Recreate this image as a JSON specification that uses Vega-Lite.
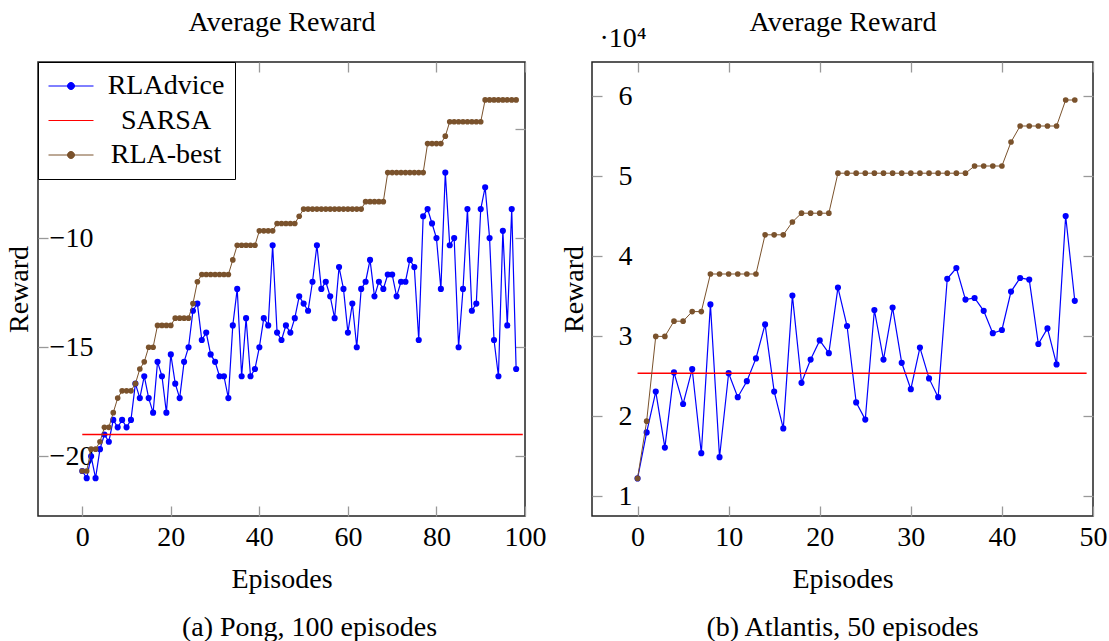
{
"$schema": "https://vega.github.io/schema/vega-lite/v6.json",
"background": "white",
"padding": {"left": 4, "top": 7, "right": 0, "bottom": 0},
"config": {
  "font": "Liberation Serif",
  "view": {"stroke": "#222222", "strokeWidth": 1.5},
  "axis": {"labelFont": "Liberation Serif", "titleFont": "Liberation Serif", "labelFontSize": 28, "titleFontSize": 28, "labelColor": "black", "titleColor": "black", "titleFontWeight": "normal", "domain": false, "grid": false, "tickColor": "#999999", "tickSize": -10, "tickWidth": 1.3, "labelFlush": false, "labelOverlap": false, "labelBound": false},
  "legend": {"labelFont": "Liberation Serif"},
  "title": {"font": "Liberation Serif", "fontSize": 28, "fontWeight": "normal", "color": "black"}
},
"datasets": {
  "pongAdvice": [{"ep":0,"reward":-20.67},{"ep":1,"reward":-21},{"ep":2,"reward":-20},{"ep":3,"reward":-21},{"ep":4,"reward":-19.67},{"ep":5,"reward":-19},{"ep":6,"reward":-19.33},{"ep":7,"reward":-18.33},{"ep":8,"reward":-18.67},{"ep":9,"reward":-18.33},{"ep":10,"reward":-18.67},{"ep":11,"reward":-18.33},{"ep":12,"reward":-16.67},{"ep":13,"reward":-17.33},{"ep":14,"reward":-16.33},{"ep":15,"reward":-17.33},{"ep":16,"reward":-18},{"ep":17,"reward":-15.67},{"ep":18,"reward":-16.33},{"ep":19,"reward":-18},{"ep":20,"reward":-15.33},{"ep":21,"reward":-16.67},{"ep":22,"reward":-17.33},{"ep":23,"reward":-15.67},{"ep":24,"reward":-15},{"ep":25,"reward":-13.33},{"ep":26,"reward":-13},{"ep":27,"reward":-14.67},{"ep":28,"reward":-14.33},{"ep":29,"reward":-15.33},{"ep":30,"reward":-15.67},{"ep":31,"reward":-16.33},{"ep":32,"reward":-16.33},{"ep":33,"reward":-17.33},{"ep":34,"reward":-14},{"ep":35,"reward":-12.33},{"ep":36,"reward":-16.33},{"ep":37,"reward":-13.67},{"ep":38,"reward":-16.33},{"ep":39,"reward":-16},{"ep":40,"reward":-15},{"ep":41,"reward":-13.67},{"ep":42,"reward":-14},{"ep":43,"reward":-10.33},{"ep":44,"reward":-14.33},{"ep":45,"reward":-14.67},{"ep":46,"reward":-14},{"ep":47,"reward":-14.33},{"ep":48,"reward":-13.67},{"ep":49,"reward":-12.67},{"ep":50,"reward":-13},{"ep":51,"reward":-13.33},{"ep":52,"reward":-12},{"ep":53,"reward":-10.33},{"ep":54,"reward":-12.33},{"ep":55,"reward":-12},{"ep":56,"reward":-12.67},{"ep":57,"reward":-13.67},{"ep":58,"reward":-11.33},{"ep":59,"reward":-12.33},{"ep":60,"reward":-14.33},{"ep":61,"reward":-13},{"ep":62,"reward":-15},{"ep":63,"reward":-12.33},{"ep":64,"reward":-12},{"ep":65,"reward":-11},{"ep":66,"reward":-12.67},{"ep":67,"reward":-12},{"ep":68,"reward":-12.33},{"ep":69,"reward":-11.67},{"ep":70,"reward":-11.67},{"ep":71,"reward":-12.67},{"ep":72,"reward":-12},{"ep":73,"reward":-12},{"ep":74,"reward":-11},{"ep":75,"reward":-11.33},{"ep":76,"reward":-14.67},{"ep":77,"reward":-9},{"ep":78,"reward":-8.67},{"ep":79,"reward":-9.33},{"ep":80,"reward":-10},{"ep":81,"reward":-12.33},{"ep":82,"reward":-7},{"ep":83,"reward":-10.33},{"ep":84,"reward":-10},{"ep":85,"reward":-15},{"ep":86,"reward":-12.33},{"ep":87,"reward":-8.67},{"ep":88,"reward":-13.33},{"ep":89,"reward":-13},{"ep":90,"reward":-8.67},{"ep":91,"reward":-7.67},{"ep":92,"reward":-10},{"ep":93,"reward":-14.67},{"ep":94,"reward":-16.33},{"ep":95,"reward":-9.67},{"ep":96,"reward":-14},{"ep":97,"reward":-8.67},{"ep":98,"reward":-16}],
  "pongBest": [{"ep":0,"reward":-20.67},{"ep":1,"reward":-20.67},{"ep":2,"reward":-19.67},{"ep":3,"reward":-19.67},{"ep":4,"reward":-19.33},{"ep":5,"reward":-18.67},{"ep":6,"reward":-18.67},{"ep":7,"reward":-18},{"ep":8,"reward":-17.33},{"ep":9,"reward":-17},{"ep":10,"reward":-17},{"ep":11,"reward":-17},{"ep":12,"reward":-16.67},{"ep":13,"reward":-16},{"ep":14,"reward":-15.67},{"ep":15,"reward":-15},{"ep":16,"reward":-15},{"ep":17,"reward":-14},{"ep":18,"reward":-14},{"ep":19,"reward":-14},{"ep":20,"reward":-14},{"ep":21,"reward":-13.67},{"ep":22,"reward":-13.67},{"ep":23,"reward":-13.67},{"ep":24,"reward":-13.67},{"ep":25,"reward":-13},{"ep":26,"reward":-12},{"ep":27,"reward":-11.67},{"ep":28,"reward":-11.67},{"ep":29,"reward":-11.67},{"ep":30,"reward":-11.67},{"ep":31,"reward":-11.67},{"ep":32,"reward":-11.67},{"ep":33,"reward":-11.67},{"ep":34,"reward":-11},{"ep":35,"reward":-10.33},{"ep":36,"reward":-10.33},{"ep":37,"reward":-10.33},{"ep":38,"reward":-10.33},{"ep":39,"reward":-10.33},{"ep":40,"reward":-9.67},{"ep":41,"reward":-9.67},{"ep":42,"reward":-9.67},{"ep":43,"reward":-9.67},{"ep":44,"reward":-9.33},{"ep":45,"reward":-9.33},{"ep":46,"reward":-9.33},{"ep":47,"reward":-9.33},{"ep":48,"reward":-9.33},{"ep":49,"reward":-9},{"ep":50,"reward":-8.67},{"ep":51,"reward":-8.67},{"ep":52,"reward":-8.67},{"ep":53,"reward":-8.67},{"ep":54,"reward":-8.67},{"ep":55,"reward":-8.67},{"ep":56,"reward":-8.67},{"ep":57,"reward":-8.67},{"ep":58,"reward":-8.67},{"ep":59,"reward":-8.67},{"ep":60,"reward":-8.67},{"ep":61,"reward":-8.67},{"ep":62,"reward":-8.67},{"ep":63,"reward":-8.67},{"ep":64,"reward":-8.33},{"ep":65,"reward":-8.33},{"ep":66,"reward":-8.33},{"ep":67,"reward":-8.33},{"ep":68,"reward":-8.33},{"ep":69,"reward":-7},{"ep":70,"reward":-7},{"ep":71,"reward":-7},{"ep":72,"reward":-7},{"ep":73,"reward":-7},{"ep":74,"reward":-7},{"ep":75,"reward":-7},{"ep":76,"reward":-7},{"ep":77,"reward":-7},{"ep":78,"reward":-5.67},{"ep":79,"reward":-5.67},{"ep":80,"reward":-5.67},{"ep":81,"reward":-5.67},{"ep":82,"reward":-5.33},{"ep":83,"reward":-4.67},{"ep":84,"reward":-4.67},{"ep":85,"reward":-4.67},{"ep":86,"reward":-4.67},{"ep":87,"reward":-4.67},{"ep":88,"reward":-4.67},{"ep":89,"reward":-4.67},{"ep":90,"reward":-4.67},{"ep":91,"reward":-3.67},{"ep":92,"reward":-3.67},{"ep":93,"reward":-3.67},{"ep":94,"reward":-3.67},{"ep":95,"reward":-3.67},{"ep":96,"reward":-3.67},{"ep":97,"reward":-3.67},{"ep":98,"reward":-3.67}],
  "pongSarsa": [{"ep":0,"reward":-19},{"ep":99.5,"reward":-19}],
  "atlAdvice": [{"ep":0,"reward":12250},{"ep":1,"reward":18000},{"ep":2,"reward":23100},{"ep":3,"reward":16100},{"ep":4,"reward":25500},{"ep":5,"reward":21550},{"ep":6,"reward":25900},{"ep":7,"reward":15400},{"ep":8,"reward":34000},{"ep":9,"reward":14900},{"ep":10,"reward":25400},{"ep":11,"reward":22400},{"ep":12,"reward":24400},{"ep":13,"reward":27250},{"ep":14,"reward":31500},{"ep":15,"reward":23100},{"ep":16,"reward":18500},{"ep":17,"reward":35100},{"ep":18,"reward":24200},{"ep":19,"reward":27100},{"ep":20,"reward":29500},{"ep":21,"reward":27900},{"ep":22,"reward":36100},{"ep":23,"reward":31300},{"ep":24,"reward":21750},{"ep":25,"reward":19600},{"ep":26,"reward":33300},{"ep":27,"reward":27100},{"ep":28,"reward":33600},{"ep":29,"reward":26700},{"ep":30,"reward":23400},{"ep":31,"reward":28600},{"ep":32,"reward":24750},{"ep":33,"reward":22400},{"ep":34,"reward":37200},{"ep":35,"reward":38550},{"ep":36,"reward":34600},{"ep":37,"reward":34800},{"ep":38,"reward":33200},{"ep":39,"reward":30400},{"ep":40,"reward":30800},{"ep":41,"reward":35600},{"ep":42,"reward":37300},{"ep":43,"reward":37100},{"ep":44,"reward":29050},{"ep":45,"reward":31000},{"ep":46,"reward":26500},{"ep":47,"reward":45050},{"ep":48,"reward":34450}],
  "atlBest": [{"ep":0,"reward":12250},{"ep":1,"reward":19400},{"ep":2,"reward":30000},{"ep":3,"reward":30000},{"ep":4,"reward":31900},{"ep":5,"reward":31900},{"ep":6,"reward":33100},{"ep":7,"reward":33100},{"ep":8,"reward":37800},{"ep":9,"reward":37800},{"ep":10,"reward":37800},{"ep":11,"reward":37800},{"ep":12,"reward":37800},{"ep":13,"reward":37800},{"ep":14,"reward":42700},{"ep":15,"reward":42700},{"ep":16,"reward":42700},{"ep":17,"reward":44300},{"ep":18,"reward":45400},{"ep":19,"reward":45400},{"ep":20,"reward":45400},{"ep":21,"reward":45400},{"ep":22,"reward":50400},{"ep":23,"reward":50400},{"ep":24,"reward":50400},{"ep":25,"reward":50400},{"ep":26,"reward":50400},{"ep":27,"reward":50400},{"ep":28,"reward":50400},{"ep":29,"reward":50400},{"ep":30,"reward":50400},{"ep":31,"reward":50400},{"ep":32,"reward":50400},{"ep":33,"reward":50400},{"ep":34,"reward":50400},{"ep":35,"reward":50400},{"ep":36,"reward":50400},{"ep":37,"reward":51300},{"ep":38,"reward":51300},{"ep":39,"reward":51300},{"ep":40,"reward":51300},{"ep":41,"reward":54300},{"ep":42,"reward":56300},{"ep":43,"reward":56300},{"ep":44,"reward":56300},{"ep":45,"reward":56300},{"ep":46,"reward":56300},{"ep":47,"reward":59550},{"ep":48,"reward":59550}],
  "atlSarsa": [{"ep":0,"reward":25400},{"ep":49.3,"reward":25400}]
},
"spacing": 67,
"bounds": "flush",
"hconcat": [
 {
  "width": 487, "height": 454,
  "title": {"text": "(a) Pong, 100 episodes", "orient": "bottom", "anchor": "middle", "frame": "group", "dx": 28, "offset": 21},
  "resolve": {"axis": {"x": "independent", "y": "independent"}},
  "layer": [
   {"data": {"name": "pongAdvice"}, "mark": {"type": "line", "strokeWidth": 1.2},
    "encoding": {
     "x": {"field": "ep", "type": "quantitative", "scale": {"domain": [-10, 100], "nice": false, "zero": false},
           "axis": {"orient": "bottom", "values": [0, 20, 40, 60, 80, 100], "title": "Episodes", "titleX": 243.5, "titleY": 71, "titleAlign": "center", "titleBaseline": "alphabetic", "labelBaseline": "alphabetic", "labelPadding": 39}},
     "y": {"field": "reward", "type": "quantitative", "scale": {"domain": [-22.733, -1.933], "nice": false, "zero": false},
           "axis": {"orient": "left", "values": [-20, -15, -10, -5], "title": "Reward", "titleX": -19, "titleY": 227, "titleAngle": 270, "titleAlign": "center", "titleBaseline": "middle", "labelAlign": "center", "labelBaseline": "middle", "labelPadding": -23}},
     "color": {"datum": "RLAdvice", "scale": {"domain": ["RLAdvice", "SARSA", "RLA-best"], "range": ["#0000ff", "#ff0000", "#7a522c"]},
       "legend": {"title": null, "orient": "top-left", "offset": 0, "fillColor": "white", "strokeColor": "black", "padding": 10, "cornerRadius": 0,
         "labelFont": "Liberation Serif", "labelFontSize": 28, "labelColor": "black", "labelAlign": "center", "labelOffset": 72, "labelLimit": 400,
         "labelExpr": "datum.label + '\u00a0'",
         "symbolSize": 2025, "symbolStrokeWidth": 1, "clipHeight": 28, "rowPadding": 6.5,
         "encode": {"symbols": {"update": {
            "shape": {"signal": "datum.value === 'SARSA' ? 'M-1,0L1,0' : 'M-1,0L1,0M-0.156,0A0.156,0.156,0,1,1,0.156,0A0.156,0.156,0,1,1,-0.156,0Z'"},
            "fill": {"signal": "datum.value === 'RLAdvice' ? '#0000ff' : datum.value === 'SARSA' ? '#ff0000' : '#7a522c'"},
            "stroke": {"signal": "datum.value === 'RLAdvice' ? '#0000ff' : datum.value === 'SARSA' ? '#ff0000' : '#7a522c'"},
            "strokeWidth": {"value": 1}, "opacity": {"value": 1}, "fillOpacity": {"value": 1}, "strokeOpacity": {"value": 1}}}}}}
    }},
   {"data": {"name": "pongAdvice"}, "mark": {"type": "point", "filled": true, "size": 38, "opacity": 1},
    "encoding": {"x": {"field": "ep", "type": "quantitative", "axis": null}, "y": {"field": "reward", "type": "quantitative", "axis": null}, "color": {"datum": "RLAdvice"}}},
   {"data": {"name": "pongSarsa"}, "mark": {"type": "line", "strokeWidth": 1.5},
    "encoding": {"x": {"field": "ep", "type": "quantitative", "axis": null}, "y": {"field": "reward", "type": "quantitative", "axis": null}, "color": {"datum": "SARSA"}}},
   {"data": {"name": "pongBest"}, "mark": {"type": "line", "strokeWidth": 1},
    "encoding": {"x": {"field": "ep", "type": "quantitative", "axis": null}, "y": {"field": "reward", "type": "quantitative", "axis": null}, "color": {"datum": "RLA-best"}}},
   {"data": {"name": "pongBest"}, "mark": {"type": "point", "filled": true, "size": 32, "opacity": 1},
    "encoding": {"x": {"field": "ep", "type": "quantitative", "axis": null}, "y": {"field": "reward", "type": "quantitative", "axis": null}, "color": {"datum": "RLA-best"}}},
   {"data": {"name": "pongSarsa"}, "mark": {"type": "point", "opacity": 0},
    "encoding": {
     "x": {"field": "ep", "type": "quantitative", "axis": {"orient": "top", "values": [0, 20, 40, 60, 80, 100], "labels": false, "title": "Average Reward", "titleX": 243.5, "titleY": -32, "titleAlign": "center", "titleBaseline": "alphabetic", "titleAngle": 0}},
     "y": {"field": "reward", "type": "quantitative", "axis": {"orient": "right", "values": [-20, -15, -10, -5], "labels": false, "title": null}}}}
  ]
 },
 {
  "width": 501, "height": 454,
  "title": {"text": "(b) Atlantis, 50 episodes", "orient": "bottom", "anchor": "middle", "frame": "group", "dx": 0, "offset": 21},
  "resolve": {"axis": {"x": "independent", "y": "independent"}},
  "layer": [
   {"data": {"name": "atlAdvice"}, "mark": {"type": "line", "strokeWidth": 1.2},
    "encoding": {
     "x": {"field": "ep", "type": "quantitative", "scale": {"domain": [-5, 50], "nice": false, "zero": false},
           "axis": {"orient": "bottom", "values": [0, 10, 20, 30, 40, 50], "title": "Episodes", "titleX": 250.5, "titleY": 71, "titleAlign": "center", "titleBaseline": "alphabetic", "labelBaseline": "alphabetic", "labelPadding": 39}},
     "y": {"field": "reward", "type": "quantitative", "scale": {"domain": [7550, 64300], "nice": false, "zero": false},
           "axis": {"orient": "left", "values": [10000, 20000, 30000, 40000, 50000, 60000], "labelExpr": "datum.value / 10000", "title": "Reward", "titleX": -18, "titleY": 227, "titleAngle": 270, "titleAlign": "center", "titleBaseline": "middle", "labelAlign": "center", "labelBaseline": "middle", "labelPadding": -23}},
     "color": {"datum": "RLAdvice", "scale": {"domain": ["RLAdvice", "SARSA", "RLA-best"], "range": ["#0000ff", "#ff0000", "#7a522c"]}, "legend": null}
    }},
   {"data": {"name": "atlAdvice"}, "mark": {"type": "point", "filled": true, "size": 38, "opacity": 1},
    "encoding": {"x": {"field": "ep", "type": "quantitative", "axis": null}, "y": {"field": "reward", "type": "quantitative", "axis": null}, "color": {"datum": "RLAdvice", "legend": null}}},
   {"data": {"name": "atlSarsa"}, "mark": {"type": "line", "strokeWidth": 1.5},
    "encoding": {"x": {"field": "ep", "type": "quantitative", "axis": null}, "y": {"field": "reward", "type": "quantitative", "axis": null}, "color": {"datum": "SARSA", "legend": null}}},
   {"data": {"name": "atlBest"}, "mark": {"type": "line", "strokeWidth": 1},
    "encoding": {"x": {"field": "ep", "type": "quantitative", "axis": null}, "y": {"field": "reward", "type": "quantitative", "axis": null}, "color": {"datum": "RLA-best", "legend": null}}},
   {"data": {"name": "atlBest"}, "mark": {"type": "point", "filled": true, "size": 32, "opacity": 1},
    "encoding": {"x": {"field": "ep", "type": "quantitative", "axis": null}, "y": {"field": "reward", "type": "quantitative", "axis": null}, "color": {"datum": "RLA-best", "legend": null}}},
   {"data": {"name": "atlSarsa"}, "mark": {"type": "point", "opacity": 0},
    "encoding": {
     "x": {"field": "ep", "type": "quantitative", "axis": {"orient": "top", "values": [0, 10, 20, 30, 40, 50], "labels": false, "title": "Average Reward", "titleX": 250.5, "titleY": -32, "titleAlign": "center", "titleBaseline": "alphabetic", "titleAngle": 0}},
     "y": {"field": "reward", "type": "quantitative", "axis": {"orient": "right", "values": [10000, 20000, 30000, 40000, 50000, 60000], "labels": false, "title": "·10⁴", "titleX": -494, "titleY": -16, "titleAngle": 0, "titleAlign": "left", "titleBaseline": "alphabetic"}}}}
  ]
 }
]
}
